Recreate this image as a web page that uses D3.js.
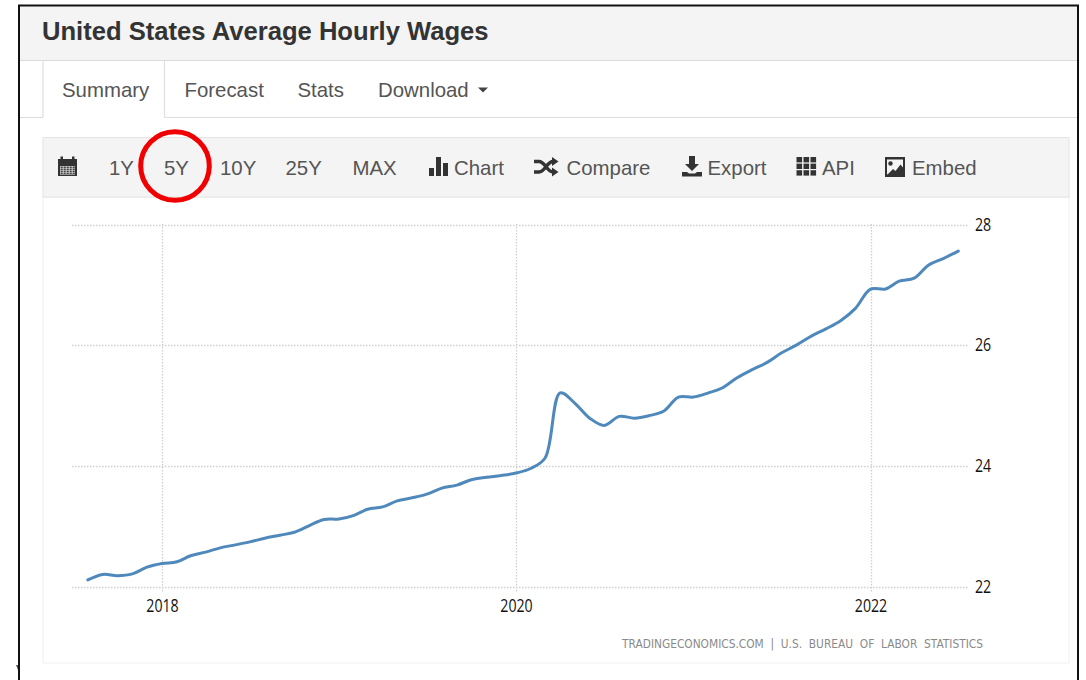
<!DOCTYPE html>
<html><head><meta charset="utf-8">
<script src="https://cdn.jsdelivr.net/npm/d3@7/dist/d3.min.js"></script>
<style>
html,body{margin:0;padding:0;background:#fff;overflow:hidden}
svg{display:block}
text{font-family:"Liberation Sans",Arial,sans-serif}
</style></head><body>
<svg id="c" width="1086" height="680"></svg>
<script>
const chartTitle = "United States Average Hourly Wages";
const tabLabels = ["Summary","Forecast","Stats","Download"];
const rangeLabels = ["1Y","5Y","10Y","25Y","MAX"];
const toolLabels = ["Chart","Compare","Export","API","Embed"];
const sourceText = "TRADINGECONOMICS.COM  |  U.S.  BUREAU  OF  LABOR  STATISTICS";
const yTicks = [22,24,26,28];
const xTickYears = [2018,2020,2022];
const months = ["2017-08","2017-09","2017-10","2017-11","2017-12",
"2018-01","2018-02","2018-03","2018-04","2018-05","2018-06","2018-07","2018-08","2018-09","2018-10","2018-11","2018-12",
"2019-01","2019-02","2019-03","2019-04","2019-05","2019-06","2019-07","2019-08","2019-09","2019-10","2019-11","2019-12",
"2020-01","2020-02","2020-03","2020-04","2020-05","2020-06","2020-07","2020-08","2020-09","2020-10","2020-11","2020-12",
"2021-01","2021-02","2021-03","2021-04","2021-05","2021-06","2021-07","2021-08","2021-09","2021-10","2021-11","2021-12",
"2022-01","2022-02","2022-03","2022-04","2022-05","2022-06","2022-07"];
const wages = [22.11,22.20,22.18,22.21,22.32,
22.38,22.41,22.51,22.57,22.64,22.69,22.74,22.80,22.85,22.90,23.01,23.11,
23.12,23.18,23.28,23.32,23.42,23.47,23.53,23.63,23.68,23.77,23.81,23.84,
23.88,23.96,24.13,25.21,25.04,24.79,24.67,24.82,24.79,24.83,24.91,25.14,
25.14,25.21,25.29,25.46,25.59,25.71,25.87,26.00,26.15,26.27,26.41,26.61,
26.93,26.93,27.06,27.11,27.33,27.44,27.56];

const svg = d3.select("#c");
const parse = d3.utcParse("%Y-%m");
const x = d3.scaleUtc().domain([parse("2018-01"),parse("2022-01")]).range([162,870.5]);
const y = d3.scaleLinear().domain([22,28]).range([586.5,224.5]);

// page frame
svg.append("rect").attr("x",19).attr("y",6).attr("width",1059).attr("height",54).attr("fill","#f4f4f4");
const hline=(yy,x1,x2,c)=>svg.append("line").attr("x1",x1).attr("x2",x2).attr("y1",yy).attr("y2",yy).attr("stroke",c).attr("stroke-width",1.2);
hline(60.5,19,1078,"#dcdcdc");
hline(117.5,19,43,"#dedede");
hline(117.5,164.5,1078,"#dedede");
svg.append("path").attr("d","M43 61V117.5M164.5 61V117.5").attr("stroke","#dedede").attr("stroke-width",1.2).attr("fill","none");
svg.append("path").attr("d","M19 680V5.5H1078V680").attr("fill","none").attr("stroke","#111").attr("stroke-width",2);
svg.append("path").attr("d","M16 665L18 670L18 665Z").attr("fill","#555");

svg.append("text").attr("x",42).attr("y",40).attr("font-size",25.6).attr("font-weight",700).attr("fill","#333").text(chartTitle);

// tabs
const tabX=[62,184.5,297.5,378];
svg.selectAll(".tab").data(tabLabels).join("text").attr("class","tab")
 .attr("x",(d,i)=>tabX[i]).attr("y",96.5).attr("font-size",20.4).attr("fill","#555").text(d=>d);
svg.append("path").attr("d","M478 87.5h10l-5 5z").attr("fill","#444");

// toolbar and panel
svg.append("rect").attr("x",43).attr("y",197).attr("width",1026).attr("height",466).attr("fill","#fff").attr("stroke","#f0f0f0");
svg.append("rect").attr("x",43).attr("y",137.5).attr("width",1026).attr("height",59.5).attr("fill","#f4f4f4").attr("stroke","#e4e4e4");
const rangeX=[109,164,220,285.5,352.5];
svg.selectAll(".range").data(rangeLabels).join("text").attr("class","range")
 .attr("x",(d,i)=>rangeX[i]).attr("y",174.5).attr("font-size",20.4).attr("fill","#555").text(d=>d);
const toolX=[454,566.5,707.5,822,912];
svg.selectAll(".tool").data(toolLabels).join("text").attr("class","tool")
 .attr("x",(d,i)=>toolX[i]).attr("y",174.5).attr("font-size",20.4).attr("fill","#555").text(d=>d);

// icons
const ic="#333";
const icons=svg.append("g").attr("fill",ic);
// calendar
icons.append("path").attr("fill-rule","evenodd").attr("d","M58 159h19v17h-19zM60 166v8.5h15v-8.5z");
icons.append("rect").attr("x",60.5).attr("y",156.5).attr("width",2.5).attr("height",4);
icons.append("rect").attr("x",72).attr("y",156.5).attr("width",2.5).attr("height",4);
d3.range(4).forEach(r=>d3.range(5).forEach(c=>icons.append("rect").attr("x",60.5+c*3).attr("y",166.5+r*2).attr("width",2.3).attr("height",1.4)));
// bars
icons.append("path").attr("d","M429 168h5v8h-5zM436 157h5v19h-5zM443 163h5v13h-5z");
// shuffle
icons.append("path").attr("fill","none").attr("stroke",ic).attr("stroke-width",3.4)
 .attr("d","M534 161.5h5c6 0 8 10.5 14 10.5h2M534 172h5c6 0 8-10.5 14-10.5h2");
icons.append("path").attr("d","M552 157l6.5 4.5l-6.5 4.5zM552 167.5l6.5 4.5l-6.5 4.5z");
// download
icons.append("path").attr("d","M689 156h6v8h4l-7 7l-7-7h4zM682 172h5l2 1.5h6l2-1.5h5v4.5h-20z");
// grid
d3.range(3).forEach(r=>d3.range(3).forEach(c=>icons.append("rect").attr("x",796.5+c*7).attr("y",157+r*6.6).attr("width",5.6).attr("height",5.4)));
// picture
icons.append("path").attr("fill-rule","evenodd").attr("d","M885 157h20v20h-20zM887 159.5v15h16v-15z");
icons.append("circle").attr("cx",890.5).attr("cy",163.5).attr("r",2.2);
icons.append("path").attr("d","M887 175l6-6l2.5 2l5-6.5l2.5 3v7.5z");

// axes
const yAxis=d3.axisRight(y).tickValues(yTicks).tickFormat(d3.format("d")).tickSize(0).tickPadding(6);
const xAxis=d3.axisBottom(x).tickValues(xTickYears.map(v=>new Date(Date.UTC(v,0,1)))).tickFormat(d3.utcFormat("%Y")).tickSize(0).tickPadding(7);
const gridStyle=g=>g.attr("stroke","#cfcfcf").attr("stroke-width",1.3).attr("stroke-dasharray","1.5 1.5").attr("fill","none");
svg.append("g").selectAll("line").data(yTicks).join("line")
 .attr("x1",72).attr("x2",968).attr("y1",d=>Math.round(y(d))+.5).attr("y2",d=>Math.round(y(d))+.5).call(gridStyle);
svg.append("g").selectAll("line").data(xTickYears).join("line")
 .attr("x1",d=>Math.round(x(new Date(Date.UTC(d,0,1))))+.5).attr("x2",d=>Math.round(x(new Date(Date.UTC(d,0,1))))+.5)
 .attr("y1",224).attr("y2",593).call(gridStyle);
const ay=svg.append("g").attr("transform","translate(969,0)").call(yAxis);
ay.select(".domain").remove();
const ax=svg.append("g").attr("transform","translate(0,593)").call(xAxis);
ax.select(".domain").remove();
[ay,ax].forEach(g=>g.selectAll("text").attr("font-size",17.3).attr("fill","#111")
  .style("font-family",'"Open Sans",sans-serif'));
ay.selectAll("text").each(function(){const t=d3.select(this);t.attr("transform",`translate(${+t.attr("x")},0) scale(.82,1) translate(${-t.attr("x")},0)`);});
ax.selectAll("text").attr("transform","scale(.82,1)");

// series
const line=d3.line().x((d,i)=>x(parse(months[i]))).y(d=>y(d)).curve(d3.curveCatmullRom.alpha(.5));
svg.append("path").datum(wages).attr("d",line).attr("fill","none").attr("stroke","#4f89bb").attr("stroke-width",3).attr("stroke-linecap","round");

svg.append("text").attr("x",622).attr("y",647.5).attr("font-size",11.5).attr("fill","#8a8a8a")
 .style("white-space","pre").style("font-family",'"DejaVu Sans",sans-serif').attr("textLength",361).attr("lengthAdjust","spacingAndGlyphs").text(sourceText);

// annotation circle around 5Y
svg.append("circle").attr("cx",175).attr("cy",166).attr("r",34.3).attr("fill","none").attr("stroke","#f00000").attr("stroke-width",5);
</script></body></html>
